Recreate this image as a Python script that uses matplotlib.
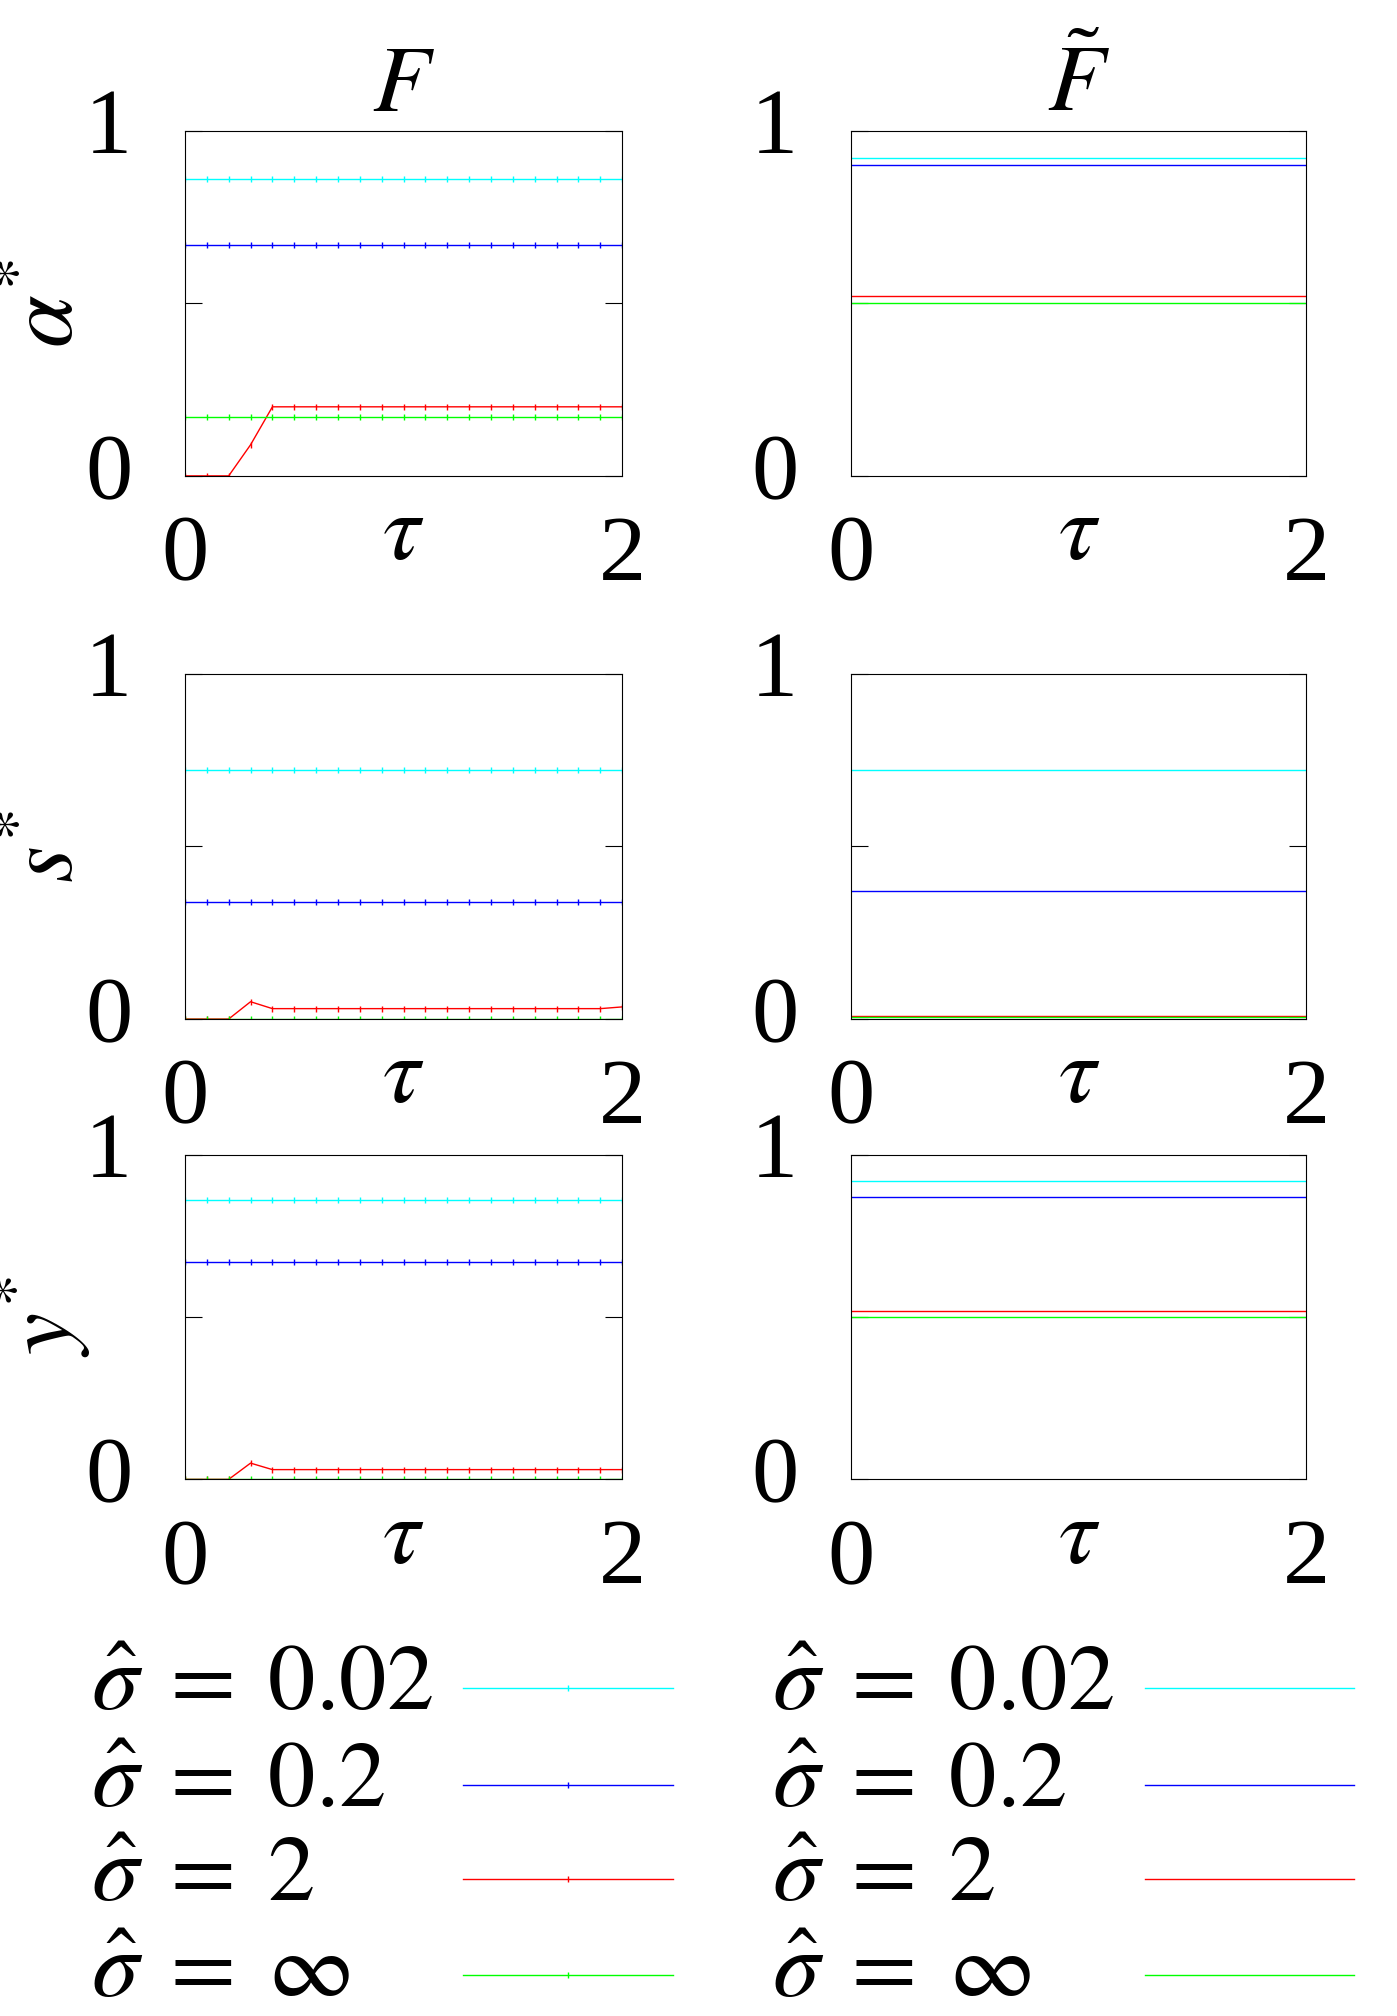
import numpy as np
import matplotlib.pyplot as plt

plt.rcParams['mathtext.fontset'] = 'stix'
plt.rcParams['font.family'] = ['Liberation Serif', 'DejaVu Serif']

tau = np.linspace(0, 2, 21)
colors = ['cyan', 'blue', 'red', 'lime']
labels = [r'$\hat{\sigma}\;=\;0.02$', r'$\hat{\sigma}\;=\;0.2$', r'$\hat{\sigma}\;=\;2$', r'$\hat{\sigma}\;=\;\infty$']

red_alpha = [0, 0, 0, 0.09] + [0.2] * 17
red_s = [0, 0, 0, 0.05] + [0.03] * 16 + [0.035]
red_y = [0, 0, 0, 0.05] + [0.03] * 17

left = {
    'alpha': [[0.86] * 21, [0.67] * 21, red_alpha, [0.17] * 21],
    's': [[0.72] * 21, [0.34] * 21, red_s, [0.0] * 21],
    'y': [[0.86] * 21, [0.67] * 21, red_y, [0.0] * 21],
}
right = {
    'alpha': [0.92, 0.90, 0.52, 0.50],
    's': [0.72, 0.37, 0.01, 0.005],
    'y': [0.92, 0.87, 0.52, 0.50],
}
ylabels = {'alpha': r'$\alpha^{*}$', 's': r'$s^{*}$', 'y': r'$y^{*}$'}

W, H = 1080, 1559
fig = plt.figure(figsize=(13.97, 20.16), dpi=100)
rows = [(101, 368), (521, 788), (893, 1144)]
cols = [(143, 481), (658, 1010)]
fs = 68

for r, key in enumerate(['alpha', 's', 'y']):
    top, bot = rows[r]
    for c in range(2):
        x0, x1 = cols[c]
        ax = fig.add_axes([x0 / W, 1 - bot / H, (x1 - x0) / W, (bot - top) / H])
        if c == 0:
            for col, vals in zip(colors, left[key]):
                ax.plot(tau, vals, color=col, lw=1, marker='|', ms=5, mew=1)
            ax.set_ylabel(ylabels[key], fontsize=fs, labelpad=-6)
        else:
            for col, v in zip(colors, right[key]):
                ax.plot(tau, [v] * len(tau), color=col, lw=1)
        ax.set_xlim(0, 2)
        ax.set_ylim(0, 1)
        ax.set_yticks([0, 0.5, 1])
        ax.set_yticklabels(['0', '', '1'])
        ax.set_xticks([0, 2])
        ax.set_xticklabels(['0', '2'])
        ax.tick_params(axis='y', direction='in', right=True, length=12, labelsize=fs, pad=38)
        ax.tick_params(axis='x', length=0, labelsize=fs, pad=28)
        for lab in ax.get_yticklabels():
            lab.set_verticalalignment('center')
        ax.set_xlabel(r'$\tau$', fontsize=fs, labelpad=-76)
        if r == 0:
            ax.set_title(r'$F$' if c == 0 else r'$\tilde{F}$', fontsize=fs, pad=4)

# legend
lax = fig.add_axes([0, 0, 1, 1], facecolor='none')
lax.set_xlim(0, W)
lax.set_ylim(H, 0)
lax.axis('off')
leg_y = [1305, 1380, 1453, 1527]
for c, (tx, lx0, lx1) in enumerate([(70, 358, 520), (597, 885, 1047)]):
    for lab, col, yy in zip(labels, colors, leg_y):
        lax.text(tx, yy, lab, fontsize=fs, va='center', ha='left')
        lax.plot([lx0, lx1], [yy, yy], color=col, lw=1)
        if c == 0:
            lax.plot([(lx0 + lx1) / 2], [yy], color=col, marker='|', ms=5)

fig.savefig('out.png', dpi=100)
